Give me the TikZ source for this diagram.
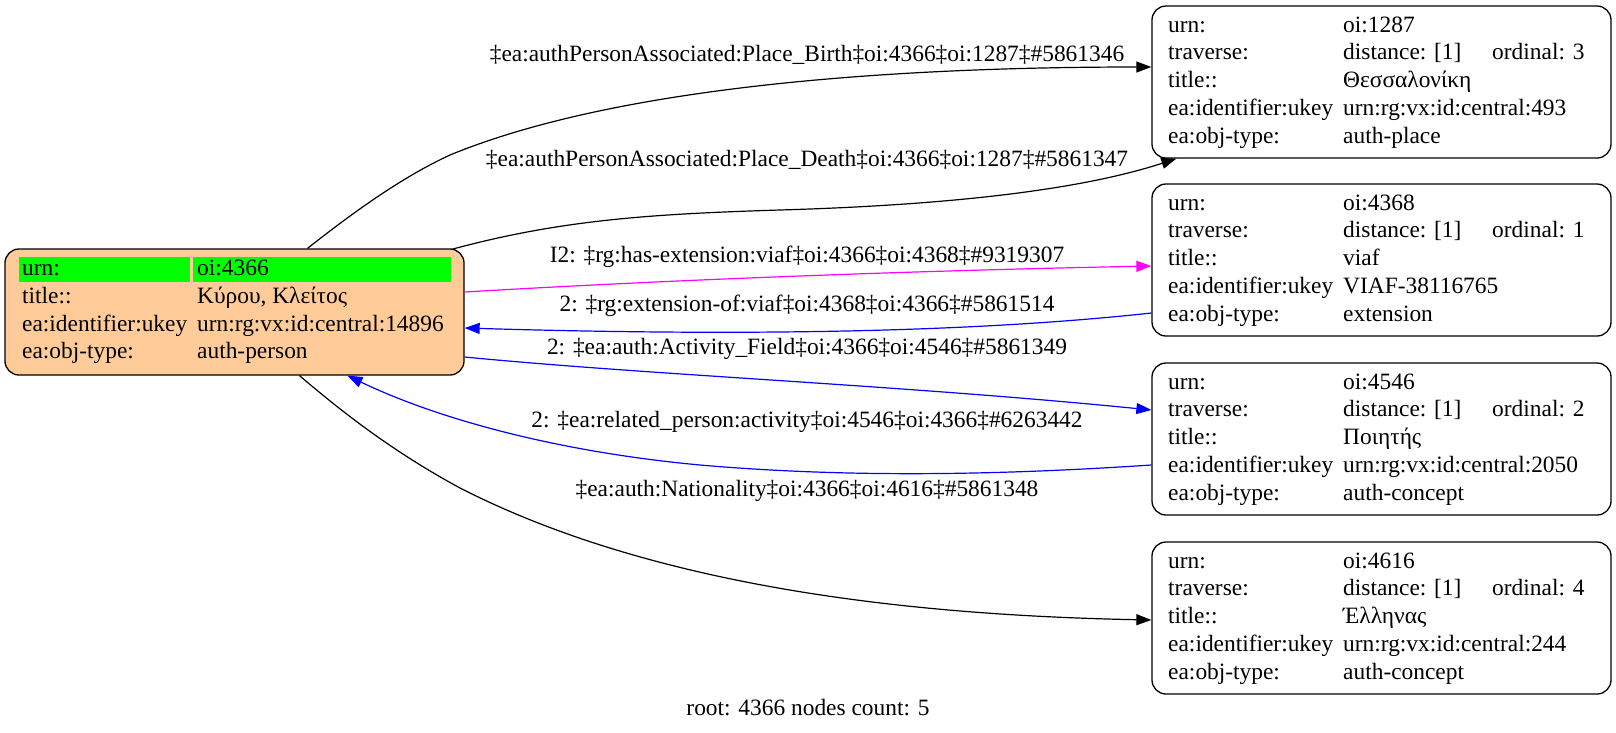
\documentclass[tikz,border=0pt]{standalone}
\usepackage{fontspec}
\setmainfont{Liberation Serif}
\usetikzlibrary{arrows.meta,calc}
\definecolor{nodeorange}{HTML}{FFCC99}
\definecolor{cellgreen}{HTML}{00FF00}
\definecolor{edgeblue}{HTML}{0000FF}
\definecolor{edgemagenta}{HTML}{FF00FF}
\tikzset{
  txt/.style={inner sep=0pt, anchor=base west, font=\fontsize{23.4}{28}\selectfont},
  lbl/.style={inner sep=0pt, anchor=base, font=\fontsize{23.4}{28}\selectfont},
  recbox/.style={draw=black, line width=1.3pt, rounded corners=14pt, minimum width=459pt, minimum height=152pt, inner sep=0pt},
  rootbox/.style={recbox, fill=nodeorange, minimum height=126pt},
  greencell/.style={fill=cellgreen, inner sep=0pt, anchor=north west, minimum height=25pt},
  conn/.style={line width=1.2pt, -{Triangle[length=15pt,width=11pt]}},
}
\newcommand{\rightrec}[7]{%
  \node[recbox] (#1) at (1381.5,#2+76) {};
  \node[txt] (#1k1) at (1168,#2+26) {urn:};
  \node[txt] (#1v1) at (1343,#2+26) {#3};
  \node[txt] (#1k2) at (1168,#2+53.75) {traverse:};
  \node[txt] (#1v2) at (1343,#2+53.75) {distance: [1]};
  \node[txt] (#1o2) at (1492,#2+53.75) {ordinal: #4};
  \node[txt] (#1k3) at (1168,#2+81.5) {title::};
  \node[txt] (#1v3) at (1343,#2+81.5) {#5};
  \node[txt] (#1k4) at (1168,#2+109.25) {ea:identifier:ukey};
  \node[txt] (#1v4) at (1343,#2+109.25) {#6};
  \node[txt] (#1k5) at (1168,#2+137) {ea:obj-type:};
  \node[txt] (#1v5) at (1343,#2+137) {#7};
}
\begin{document}
\begin{tikzpicture}[x=1pt,y=-1pt]
\useasboundingbox (0,0) rectangle (1616,732);

% root node
\node[rootbox] (n4366) at (234.5,312) {};
\node[greencell, minimum width=171pt] (g1) at (19,257) {};
\node[greencell, minimum width=258pt] (g2) at (193,257) {};
\node[txt] (rk1) at (22,275) {urn:};
\node[txt] (rv1) at (197,275) {oi:4366};
\node[txt] (rk2) at (22,303) {title::};
\node[txt] (rv2) at (197,303) {Κύρου, Κλείτος};
\node[txt] (rk3) at (22,331) {ea:identifier:ukey};
\node[txt] (rv3) at (197,331) {urn:rg:vx:id:central:14896};
\node[txt] (rk4) at (22,358) {ea:obj-type:};
\node[txt] (rv4) at (197,358) {auth-person};

% right nodes
\rightrec{b1287}{6}{oi:1287}{3}{Θεσσαλονίκη}{urn:rg:vx:id:central:493}{auth-place}
\rightrec{b4368}{184}{oi:4368}{1}{viaf}{VIAF-38116765}{extension}
\rightrec{b4546}{363}{oi:4546}{2}{Ποιητής}{urn:rg:vx:id:central:2050}{auth-concept}
\rightrec{b4616}{542}{oi:4616}{4}{Έλληνας}{urn:rg:vx:id:central:244}{auth-concept}

% edges
\draw[conn] ($(n4366.north)+(73,0)$) .. controls (350,215) and (400,178) .. (450,155)
  .. controls (620,85) and (900,67) .. ($(b1287.west)+(0,-15)$);
\draw[conn] ($(n4366.north east)+(-13,1)$) .. controls (560,220) and (650,214) .. (780,210)
  .. controls (950,205) and (1080,190) .. ($(b1287.south west)+(25,0)$);
\draw[conn, edgemagenta] ($(n4366.east)+(0,-20)$) .. controls (700,278) and (950,270) .. ($(b4368.west)+(0,6)$);
\draw[conn, edgeblue] ($(b4368.west)+(0,53)$) .. controls (950,335) and (700,335) .. ($(n4366.east)+(0,16)$);
\draw[conn, edgeblue] ($(n4366.east)+(0,45)$) .. controls (650,375) and (900,385) .. ($(b4546.west)+(0,-29)$);
\draw[conn, edgeblue] ($(b4546.west)+(0,26)$) .. controls (1000,475) and (850,478) .. (700,465)
  .. controls (560,452) and (440,420) .. ($(n4366.south)+(113,0)$);
\draw[conn] ($(n4366.south)+(65,0)$) .. controls (340,410) and (390,450) .. (460,488)
  .. controls (650,585) and (900,615) .. ($(b4616.west)+(0,2)$);

% edge labels
\node[lbl] (l1) at (807,61) {‡ea:authPersonAssociated:Place\_Birth‡oi:4366‡oi:1287‡\#5861346};
\node[lbl] (l2) at (807,166) {‡ea:authPersonAssociated:Place\_Death‡oi:4366‡oi:1287‡\#5861347};
\node[lbl] (l3) at (807,262) {I2: ‡rg:has-extension:viaf‡oi:4366‡oi:4368‡\#9319307};
\node[lbl] (l4) at (807,311) {2: ‡rg:extension-of:viaf‡oi:4368‡oi:4366‡\#5861514};
\node[lbl] (l5) at (807,354) {2: ‡ea:auth:Activity\_Field‡oi:4366‡oi:4546‡\#5861349};
\node[lbl] (l6) at (807,427) {2: ‡ea:related\_person:activity‡oi:4546‡oi:4366‡\#6263442};
\node[lbl] (l7) at (807,496) {‡ea:auth:Nationality‡oi:4366‡oi:4616‡\#5861348};
\node[lbl] (graphlabel) at (808,715) {root: 4366 nodes count: 5};
\end{tikzpicture}
\end{document}
